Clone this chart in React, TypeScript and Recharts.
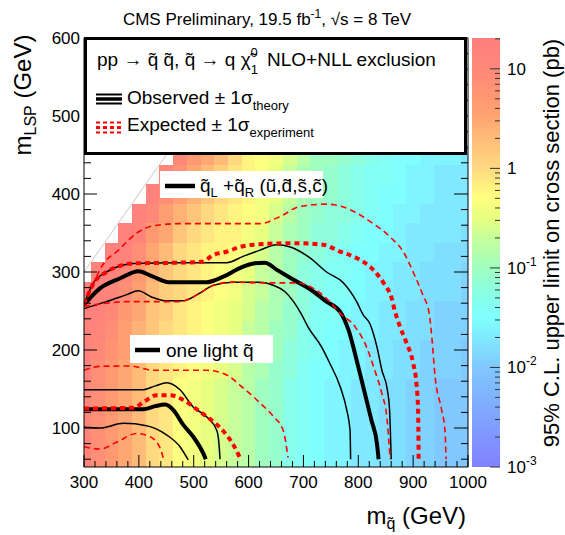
import React from 'react';
import { ComposedChart, Line, XAxis, YAxis, ReferenceArea } from 'recharts';

const FONT = '"Liberation Sans", Arial, Helvetica, sans-serif';

// heat map cell centres (GeV)
const X_CELLS = [300, 325, 350, 375, 400, 425, 450, 475, 500, 525, 550, 575, 600, 625, 650, 675, 700, 725, 750, 775, 800, 825, 850, 875, 900, 925, 950, 975, 1000];
const Y_CELLS = [50, 75, 100, 125, 150, 175, 200, 225, 250, 275, 300, 325, 350, 375, 400, 425, 450];

// one letter per cell: 'a' = 10^1.2 pb, every next letter 0.1 decade lower, '.' = no point
const LEVEL_CODES = 'abcdefghijklmnopqrstuvwxyzABCDEFGHIJK';
const LIMIT_ROWS = [
  'bdfhjmnpqrstuwxzABCCDDEEFFGGG',
  'bdfhjmnpqrstuwxzABCCDDEEFFGGG',
  'bdfhjmnpqrstuwxzABCCDDEEFFGGG',
  'bdfhjmnpqrstuwxzABCCDDEEFFGGG',
  'bdfhjmnpqrstuwxzABCCDDEEFFGGG',
  'adfhjmnopqrsuvxyABBCCDDEEFFFG',
  'acegilmopqrstvwyzABCCDDEEFFFG',
  'abdgikmnopqrtuwxzABBCCDDEEFFF',
  'aacfhklnopqrsuvxyAABCCDDEEFFF',
  'aabdgjlmnopqstvwyzAABCCDDEEEF',
  '.aacfikmnopqrtuwyzAABCCDDEEEF',
  '..aadhjmnooprsuwxyzABBCCDDEEE',
  '...abfhkmnooqrtvwyyzABBCDDDDE',
  '....acgikmnopqsuwxyyzABCCDDDD',
  '.....adgikmnoqrtvwxyzABBCCDDD',
  '......behjlnoprtvwxyzAABCCDDD',
  '.......cfhjmopqsuwwxyzABBCCCD',
];

// exclusion contours [m_squark, m_LSP], all eight degenerate squarks
const OBS_LR = [[300, 258], [329, 279], [366, 292], [399, 301], [426, 294], [454, 287], [524, 287], [554, 294], [584, 305], [609, 311], [630, 312], [651, 303], [682, 290], [718, 275], [742, 262], [767, 249], [782, 226], [797, 187], [809, 153], [824, 110], [834, 80], [837, 60]];
const OBS_LR_UP = [[300, 259], [317, 286], [341, 300], [366, 308], [390, 311], [475, 312], [560, 312], [590, 320], [621, 328], [651, 335], [676, 332], [712, 318], [742, 300], [773, 286], [797, 262], [809, 245], [821, 234], [834, 204], [843, 174], [853, 149], [857, 123], [860, 60]];
const OBS_LR_DN = [[300, 253], [341, 262], [378, 271], [399, 276], [423, 268], [451, 263], [481, 263], [511, 273], [536, 283], [572, 287], [621, 287], [645, 283], [666, 275], [682, 262], [697, 245], [708, 230], [733, 204], [748, 183], [767, 153], [779, 123], [785, 97], [786, 60]];
const EXP_LR = [[300, 258], [317, 285], [341, 300], [366, 308], [390, 311], [475, 312], [515, 313], [536, 322], [560, 326], [584, 332], [609, 335], [682, 337], [736, 335], [767, 326], [797, 318], [827, 303], [846, 286], [861, 266], [867, 249], [876, 230], [888, 209], [900, 183], [906, 157], [909, 123], [910, 60]];
const EXP_LR_UP = [[300, 259], [317, 284], [329, 303], [366, 330], [396, 350], [433, 360], [475, 362], [621, 362], [657, 371], [694, 384], [742, 387], [785, 380], [821, 365], [858, 345], [882, 326], [900, 300], [918, 270], [929, 248], [934, 217], [940, 166], [952, 123], [958, 97], [960, 60]];
const EXP_LR_DN = [[300, 256], [341, 260], [378, 262], [475, 262], [490, 265], [511, 273], [536, 283], [572, 287], [621, 286], [657, 286], [688, 286], [718, 279], [748, 262], [767, 247], [794, 230], [815, 204], [830, 174], [843, 144], [852, 114], [858, 60]];

// one light squark
const OBS_1 = [[300, 124], [408, 124], [430, 128], [448, 130], [463, 123], [481, 104], [499, 89], [517, 68], [522, 60]];
const OBS_1_UP = [[300, 149], [408, 149], [430, 154], [451, 158], [475, 149], [499, 127], [524, 114], [542, 97], [546, 80], [548, 60]];
const OBS_1_DN = [[300, 101], [329, 100], [372, 106], [414, 103], [451, 91], [475, 76], [490, 59]];
const EXP_1 = [[300, 125], [390, 126], [410, 134], [432, 142], [457, 142], [481, 136], [511, 121], [536, 108], [560, 91], [575, 75], [584, 62]];
const EXP_1_UP = [[300, 174], [329, 179], [384, 179.5], [426, 174], [524, 174], [560, 168], [584, 155], [609, 140], [621, 132], [645, 115], [663, 97], [672, 62]];
const EXP_1_DN = [[300, 76], [329, 73], [360, 82], [396, 93], [420, 89], [439, 74], [445, 60]];

const DIAGONAL = [[300, 300], [600, 600]];

const X_MAJOR = [300, 400, 500, 600, 700, 800, 900, 1000];
const Y_MAJOR = [100, 200, 300, 400, 500, 600];
const Z_MAJOR = [0.001, 0.01, 0.1, 1, 10];

const steps = (a: number, b: number, s: number) => {
  const out: number[] = [];
  for (let v = a; v <= b + 1e-9; v += s) out.push(v);
  return out;
};
const X_TICKS = steps(300, 1000, 20);
const Y_TICKS = steps(60, 600, 20);
const Z_TOP = 20.4;
const Z_TICKS: number[] = [];
[-3, -2, -1, 0, 1].forEach((k) => {
  for (let m = 1; m <= 9; m++) {
    const v = m * Math.pow(10, k);
    if (v <= Z_TOP) Z_TICKS.push(v);
  }
});

// palette of the z axis, log10(pb) -> colour
const PALETTE: [number, string][] = [
  [-3.0, '#8080ff'], [-2.45, '#80a8ff'], [-2.0, '#80c8ff'], [-1.78, '#80e0ff'], [-1.5, '#80ffff'],
  [-1.28, '#88ffe8'], [-1.0, '#a0ffc0'], [-0.68, '#c8ff98'], [-0.5, '#e8ff80'], [-0.28, '#ffff80'],
  [0, '#ffd880'], [0.3, '#ffbc78'], [0.57, '#ffa070'], [1.0, '#ff8878'], [1.31, '#ff7f7f'],
];

const hex = (c: string) => [1, 3, 5].map((i) => parseInt(c.slice(i, i + 2), 16));
function colorFor(lg: number) {
  if (lg <= PALETTE[0][0]) return PALETTE[0][1];
  for (let i = 1; i < PALETTE.length; i++) {
    if (lg <= PALETTE[i][0]) {
      const t = (lg - PALETTE[i - 1][0]) / (PALETTE[i][0] - PALETTE[i - 1][0]);
      const a = hex(PALETTE[i - 1][1]);
      const b = hex(PALETTE[i][1]);
      return `rgb(${a.map((v, j) => Math.round(v + (b[j] - v) * t)).join(',')})`;
    }
  }
  return PALETTE[PALETTE.length - 1][1];
}

const cells: { x1: number; x2: number; y1: number; y2: number; fill: string }[] = [];
Y_CELLS.forEach((yc, r) => {
  X_CELLS.forEach((xc, c) => {
    const ch = LIMIT_ROWS[r][c];
    if (ch === '.') return;
    const lg = 1.2 - 0.1 * LEVEL_CODES.indexOf(ch);
    cells.push({
      x1: Math.max(300, xc - 12.5),
      x2: Math.min(1000, xc + 12.5),
      y1: Math.max(50, yc - 12.5),
      y2: yc + 12.5,
      fill: colorFor(lg),
    });
  });
});

const bands: { y1: number; y2: number; fill: string }[] = [];
for (let lg = -3; lg < Math.log10(Z_TOP) - 1e-9; lg += 0.02) {
  const hi = Math.min(lg + 0.02, Math.log10(Z_TOP));
  bands.push({ y1: Math.pow(10, lg), y2: Math.pow(10, hi), fill: colorFor((lg + hi) / 2) });
}
const BAR_ENDS = [
  { x: 0, z: 0.001 },
  { x: 1, z: Z_TOP },
];

const CellShape = (p: any) => (
  <rect x={p.x} y={p.y} width={p.width} height={p.height} fill={p.fill} shapeRendering="crispEdges" />
);

const toPts = (c: number[][]) => c.map(([x, y]) => ({ x, y }));

const CURVES = [
  { id: 'oLRu', pts: OBS_LR_UP, stroke: '#000', w: 1.5 },
  { id: 'oLRd', pts: OBS_LR_DN, stroke: '#000', w: 1.5 },
  { id: 'oLR', pts: OBS_LR, stroke: '#000', w: 4 },
  { id: 'o1u', pts: OBS_1_UP, stroke: '#000', w: 1.5 },
  { id: 'o1d', pts: OBS_1_DN, stroke: '#000', w: 1.5 },
  { id: 'o1', pts: OBS_1, stroke: '#000', w: 4 },
  { id: 'eLRu', pts: EXP_LR_UP, stroke: '#ff0000', w: 1.6, dash: '6 4' },
  { id: 'eLRd', pts: EXP_LR_DN, stroke: '#ff0000', w: 1.6, dash: '6 4' },
  { id: 'eLR', pts: EXP_LR, stroke: '#ff0000', w: 4, dash: '5 4' },
  { id: 'e1u', pts: EXP_1_UP, stroke: '#ff0000', w: 1.6, dash: '6 4' },
  { id: 'e1d', pts: EXP_1_DN, stroke: '#ff0000', w: 1.6, dash: '6 4' },
  { id: 'e1', pts: EXP_1, stroke: '#ff0000', w: 4, dash: '5 4' },
];

const isMajor = (v: number, list: number[]) => list.some((m) => Math.abs(m - v) < 1e-6 * Math.max(1, m));

const XTick = (p: any) => {
  const v = p.payload.value;
  const major = isMajor(v, X_MAJOR);
  return (
    <g>
      <line x1={p.x} x2={p.x} y1={p.y} y2={p.y - (major ? 12 : 6)} stroke="#000" />
      {major && (
        <text x={p.x} y={p.y + 21} textAnchor="middle" fontSize={17} fontFamily={FONT} fill="#000">
          {v}
        </text>
      )}
    </g>
  );
};

const YTick = (p: any) => {
  const v = p.payload.value;
  const major = isMajor(v, Y_MAJOR);
  return (
    <g>
      <line x1={p.x} x2={p.x + (major ? 13 : 7)} y1={p.y} y2={p.y} stroke="#000" />
      {major && (
        <text x={p.x - 4} y={p.y + 6} textAnchor="end" fontSize={17} fontFamily={FONT} fill="#000">
          {v}
        </text>
      )}
    </g>
  );
};

const YTickRight = (p: any) => {
  const major = isMajor(p.payload.value, Y_MAJOR);
  return <line x1={p.x} x2={p.x - (major ? 14 : 7)} y1={p.y} y2={p.y} stroke="#000" />;
};

const ZTick = (p: any) => {
  const v = p.payload.value;
  const major = isMajor(v, Z_MAJOR);
  const exp = Math.round(Math.log10(v));
  return (
    <g>
      <line x1={p.x} x2={p.x - (major ? 10 : 5)} y1={p.y} y2={p.y} stroke="#333" />
      {major && (
        <text x={p.x + 7} y={p.y + 6} fontSize={17} fontFamily={FONT} fill="#000">
          {exp === 0 ? '1' : '10'}
          {exp < 0 && (
            <tspan fontSize={12} dy={-8}>
              {exp}
            </tspan>
          )}
        </text>
      )}
    </g>
  );
};

export default function App() {
  return (
    <div style={{ position: 'absolute', left: 0, top: 0, width: 565, height: 535, background: '#fff' }}>
      <div style={{ position: 'absolute', left: 0, top: 0 }}>
        <ComposedChart width={565} height={535} margin={{ top: 38, right: 96, bottom: 38, left: 44 }}>
          <XAxis
            dataKey="x"
            type="number"
            domain={[300, 1000]}
            ticks={X_TICKS}
            interval={0}
            allowDataOverflow
            height={30}
            tickLine={false}
            tickSize={0}
            tickMargin={0}
            axisLine={{ stroke: '#000' }}
            tick={<XTick />}
          />
          <YAxis
            type="number"
            domain={[50, 600]}
            ticks={Y_TICKS}
            interval={0}
            allowDataOverflow
            width={40}
            tickLine={false}
            tickSize={0}
            tickMargin={0}
            axisLine={{ stroke: '#000' }}
            tick={<YTick />}
          />
          <YAxis
            yAxisId="r"
            orientation="right"
            type="number"
            domain={[50, 600]}
            ticks={Y_TICKS}
            interval={0}
            allowDataOverflow
            width={1}
            tickLine={false}
            tickSize={0}
            tickMargin={0}
            axisLine={{ stroke: '#000' }}
            tick={<YTickRight />}
          />
          {cells.map((c, i) => (
            <ReferenceArea
              key={`c${i}`}
              x1={c.x1}
              x2={c.x2}
              y1={c.y1}
              y2={c.y2}
              fill={c.fill}
              fillOpacity={1}
              stroke="none"
              shape={CellShape}
            />
          ))}
          <Line
            data={toPts(DIAGONAL)}
            dataKey="y"
            type="linear"
            stroke="#c8c8c8"
            strokeWidth={1}
            dot={false}
            activeDot={false}
            isAnimationActive={false}
          />
          {CURVES.map((c) => (
            <Line
              key={c.id}
              data={toPts(c.pts)}
              dataKey="y"
              type="monotone"
              stroke={c.stroke}
              strokeWidth={c.w}
              strokeDasharray={c.dash}
              dot={false}
              activeDot={false}
              isAnimationActive={false}
            />
          ))}
        </ComposedChart>
      </div>

      <div style={{ position: 'absolute', left: 472, top: 0 }}>
        <ComposedChart data={BAR_ENDS} width={93} height={535} margin={{ top: 38, right: 0, bottom: 68, left: 0 }}>
          <XAxis type="number" dataKey="x" domain={[0, 1]} hide />
          <YAxis
            orientation="right"
            type="number"
            scale="log"
            domain={[0.001, Z_TOP]}
            ticks={Z_TICKS}
            interval={0}
            allowDataOverflow
            width={65}
            tickLine={false}
            tickSize={0}
            tickMargin={0}
            axisLine={false}
            tick={<ZTick />}
          />
          {bands.map((b, i) => (
            <ReferenceArea
              key={`b${i}`}
              x1={0}
              x2={1}
              y1={b.y1}
              y2={b.y2}
              fill={b.fill}
              fillOpacity={1}
              stroke="none"
              ifOverflow="visible"
              shape={CellShape}
            />
          ))}
          <Line dataKey="z" stroke="none" dot={false} activeDot={false} isAnimationActive={false} />
        </ComposedChart>
      </div>

      <svg
        width={565}
        height={535}
        style={{ position: 'absolute', left: 0, top: 0, pointerEvents: 'none' }}
        fontFamily={FONT}
      >
        <text x={267} y={25} textAnchor="middle" fontSize={17}>
          CMS Preliminary, 19.5 fb
          <tspan fontSize={12} dy={-7}>-1</tspan>
          <tspan dy={7}>, √s = 8 TeV</tspan>
        </text>

        <rect x={85.5} y={38.5} width={380} height={115} fill="#fff" stroke="#000" strokeWidth={3} />
        <text x={97} y={66} fontSize={19}>
          pp → q̃ q̃, q̃ → q χ̃
          <tspan fontSize={13} dy={-9}>0</tspan>
          <tspan fontSize={13} dx={-7} dy={17}>1</tspan>
          <tspan x={267} dy={-8}>NLO+NLL exclusion</tspan>
        </text>
        <line x1={96} x2={122} y1={94.5} y2={94.5} stroke="#000" strokeWidth={2} />
        <line x1={96} x2={122} y1={99} y2={99} stroke="#000" strokeWidth={3.5} />
        <line x1={96} x2={122} y1={103.5} y2={103.5} stroke="#000" strokeWidth={2} />
        <text x={127} y={104} fontSize={19}>
          Observed ± 1σ
          <tspan fontSize={13} dy={6}>theory</tspan>
        </text>
        <line x1={96} x2={122} y1={122.5} y2={122.5} stroke="#f00" strokeWidth={2} strokeDasharray="4 3" />
        <line x1={96} x2={122} y1={127.5} y2={127.5} stroke="#f00" strokeWidth={3} strokeDasharray="4 3" />
        <line x1={96} x2={122} y1={132.5} y2={132.5} stroke="#f00" strokeWidth={2} strokeDasharray="4 3" />
        <text x={127} y={131} fontSize={19}>
          Expected ± 1σ
          <tspan fontSize={13} dy={6}>experiment</tspan>
        </text>

        <rect x={160} y={171} width={163} height={27} fill="#fff" />
        <line x1={165} x2={195} y1={186} y2={186} stroke="#000" strokeWidth={4.5} />
        <text x={200} y={192} fontSize={19}>
          q̃<tspan fontSize={13} dy={5}>L</tspan>
          <tspan dy={-5}> +q̃</tspan>
          <tspan fontSize={13} dy={5}>R</tspan>
          <tspan dy={-5}> (ũ,d̃,s̃,c̃)</tspan>
        </text>

        <rect x={130} y={335} width={143} height={28} fill="#fff" />
        <line x1={135} x2={160} y1={350} y2={350} stroke="#000" strokeWidth={4.5} />
        <text x={166} y={357} fontSize={19}>
          one light q̃
        </text>

        <text transform="translate(31,95) rotate(-90)" textAnchor="middle" fontSize={24}>
          m<tspan fontSize={16} dy={5}>LSP</tspan>
          <tspan dy={-5}> (GeV)</tspan>
        </text>
        <text x={466} y={524} textAnchor="end" fontSize={24}>
          m<tspan fontSize={16} dy={5}>q̃</tspan>
          <tspan dy={-5}> (GeV)</tspan>
        </text>
        <text transform="translate(559,243) rotate(-90)" textAnchor="middle" fontSize={22}>
          95% C.L. upper limit on cross section (pb)
        </text>
      </svg>
    </div>
  );
}
